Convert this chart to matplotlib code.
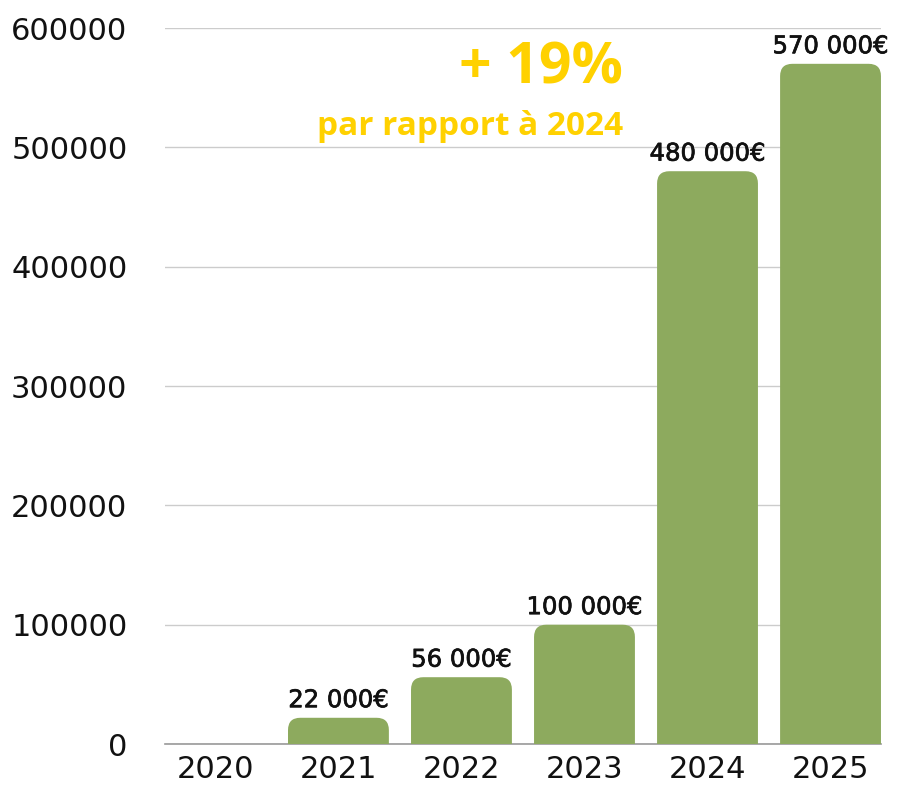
import matplotlib
matplotlib.use("Agg")
import matplotlib.pyplot as plt
import matplotlib.patheffects as pe
from matplotlib.patches import FancyBboxPatch

years = ["2020", "2021", "2022", "2023", "2024", "2025"]
amounts = [0, 22000, 56000, 100000, 480000, 570000]
labels = ["", "22 000€", "56 000€", "100 000€", "480 000€", "570 000€"]
yticks = [0, 100000, 200000, 300000, 400000, 500000, 600000]

green = "#8DAA5E"
yellow = "#FFD100"

plt.rcParams['font.family'] = ['DejaVu Sans']

fig = plt.figure(figsize=(9.03, 7.87), dpi=100)
ax = fig.add_axes([0.1827, 0.0546, 0.7929, 0.9098])

ax.set_xlim(-0.41, 5.41)
ax.set_ylim(0, 600000)

width = 0.82
rx = 0.1                      # corner radius in x data units
ry = rx * 600000 / 716 * 123  # same radius in y units (pixels -> data)

for i, (v, lab) in enumerate(zip(amounts, labels)):
    if v <= 0:
        continue
    # bottom pushed below 0 so only the top corners show rounded
    p = FancyBboxPatch((i - width / 2, -ry), width, v + ry,
                       boxstyle=f"round,pad=0,rounding_size={rx}",
                       mutation_aspect=ry / rx,
                       facecolor=green, edgecolor="none", zorder=3)
    ax.add_patch(p)
    ax.annotate(lab, (i, v), xytext=(0, 4), textcoords="offset points",
                ha="center", va="bottom", fontsize=17.5,
                color="#111111", zorder=4,
                path_effects=[pe.withStroke(linewidth=0.5, foreground="#111111")])

ax.set_xticks(range(len(years)))
ax.set_xticklabels(years)
ax.set_yticks(yticks)
ax.set_yticklabels([str(t) for t in yticks])
ax.tick_params(axis="y", length=0, pad=27, labelsize=22, labelcolor="#111111")
ax.tick_params(axis="x", length=0, pad=8, labelsize=22, labelcolor="#111111")

ax.grid(axis="y", color="#CCCCCC", linewidth=1, zorder=0)
ax.axhline(0, color="#999999", linewidth=1.2, zorder=2, clip_on=False)
for s in ax.spines.values():
    s.set_visible(False)

ax.text(623 / 903, 1 - 83 / 787, "+ 19%", transform=fig.transFigure, family="Open Sans",
        ha="right", va="baseline", fontsize=41, fontweight="bold", color=yellow)
ax.text(623 / 903, 1 - 135 / 787, "par rapport à 2024", transform=fig.transFigure,
        family="Open Sans", ha="right", va="baseline", fontsize=24,
        fontweight="bold", color=yellow)

fig.savefig("out.png", dpi=100)
